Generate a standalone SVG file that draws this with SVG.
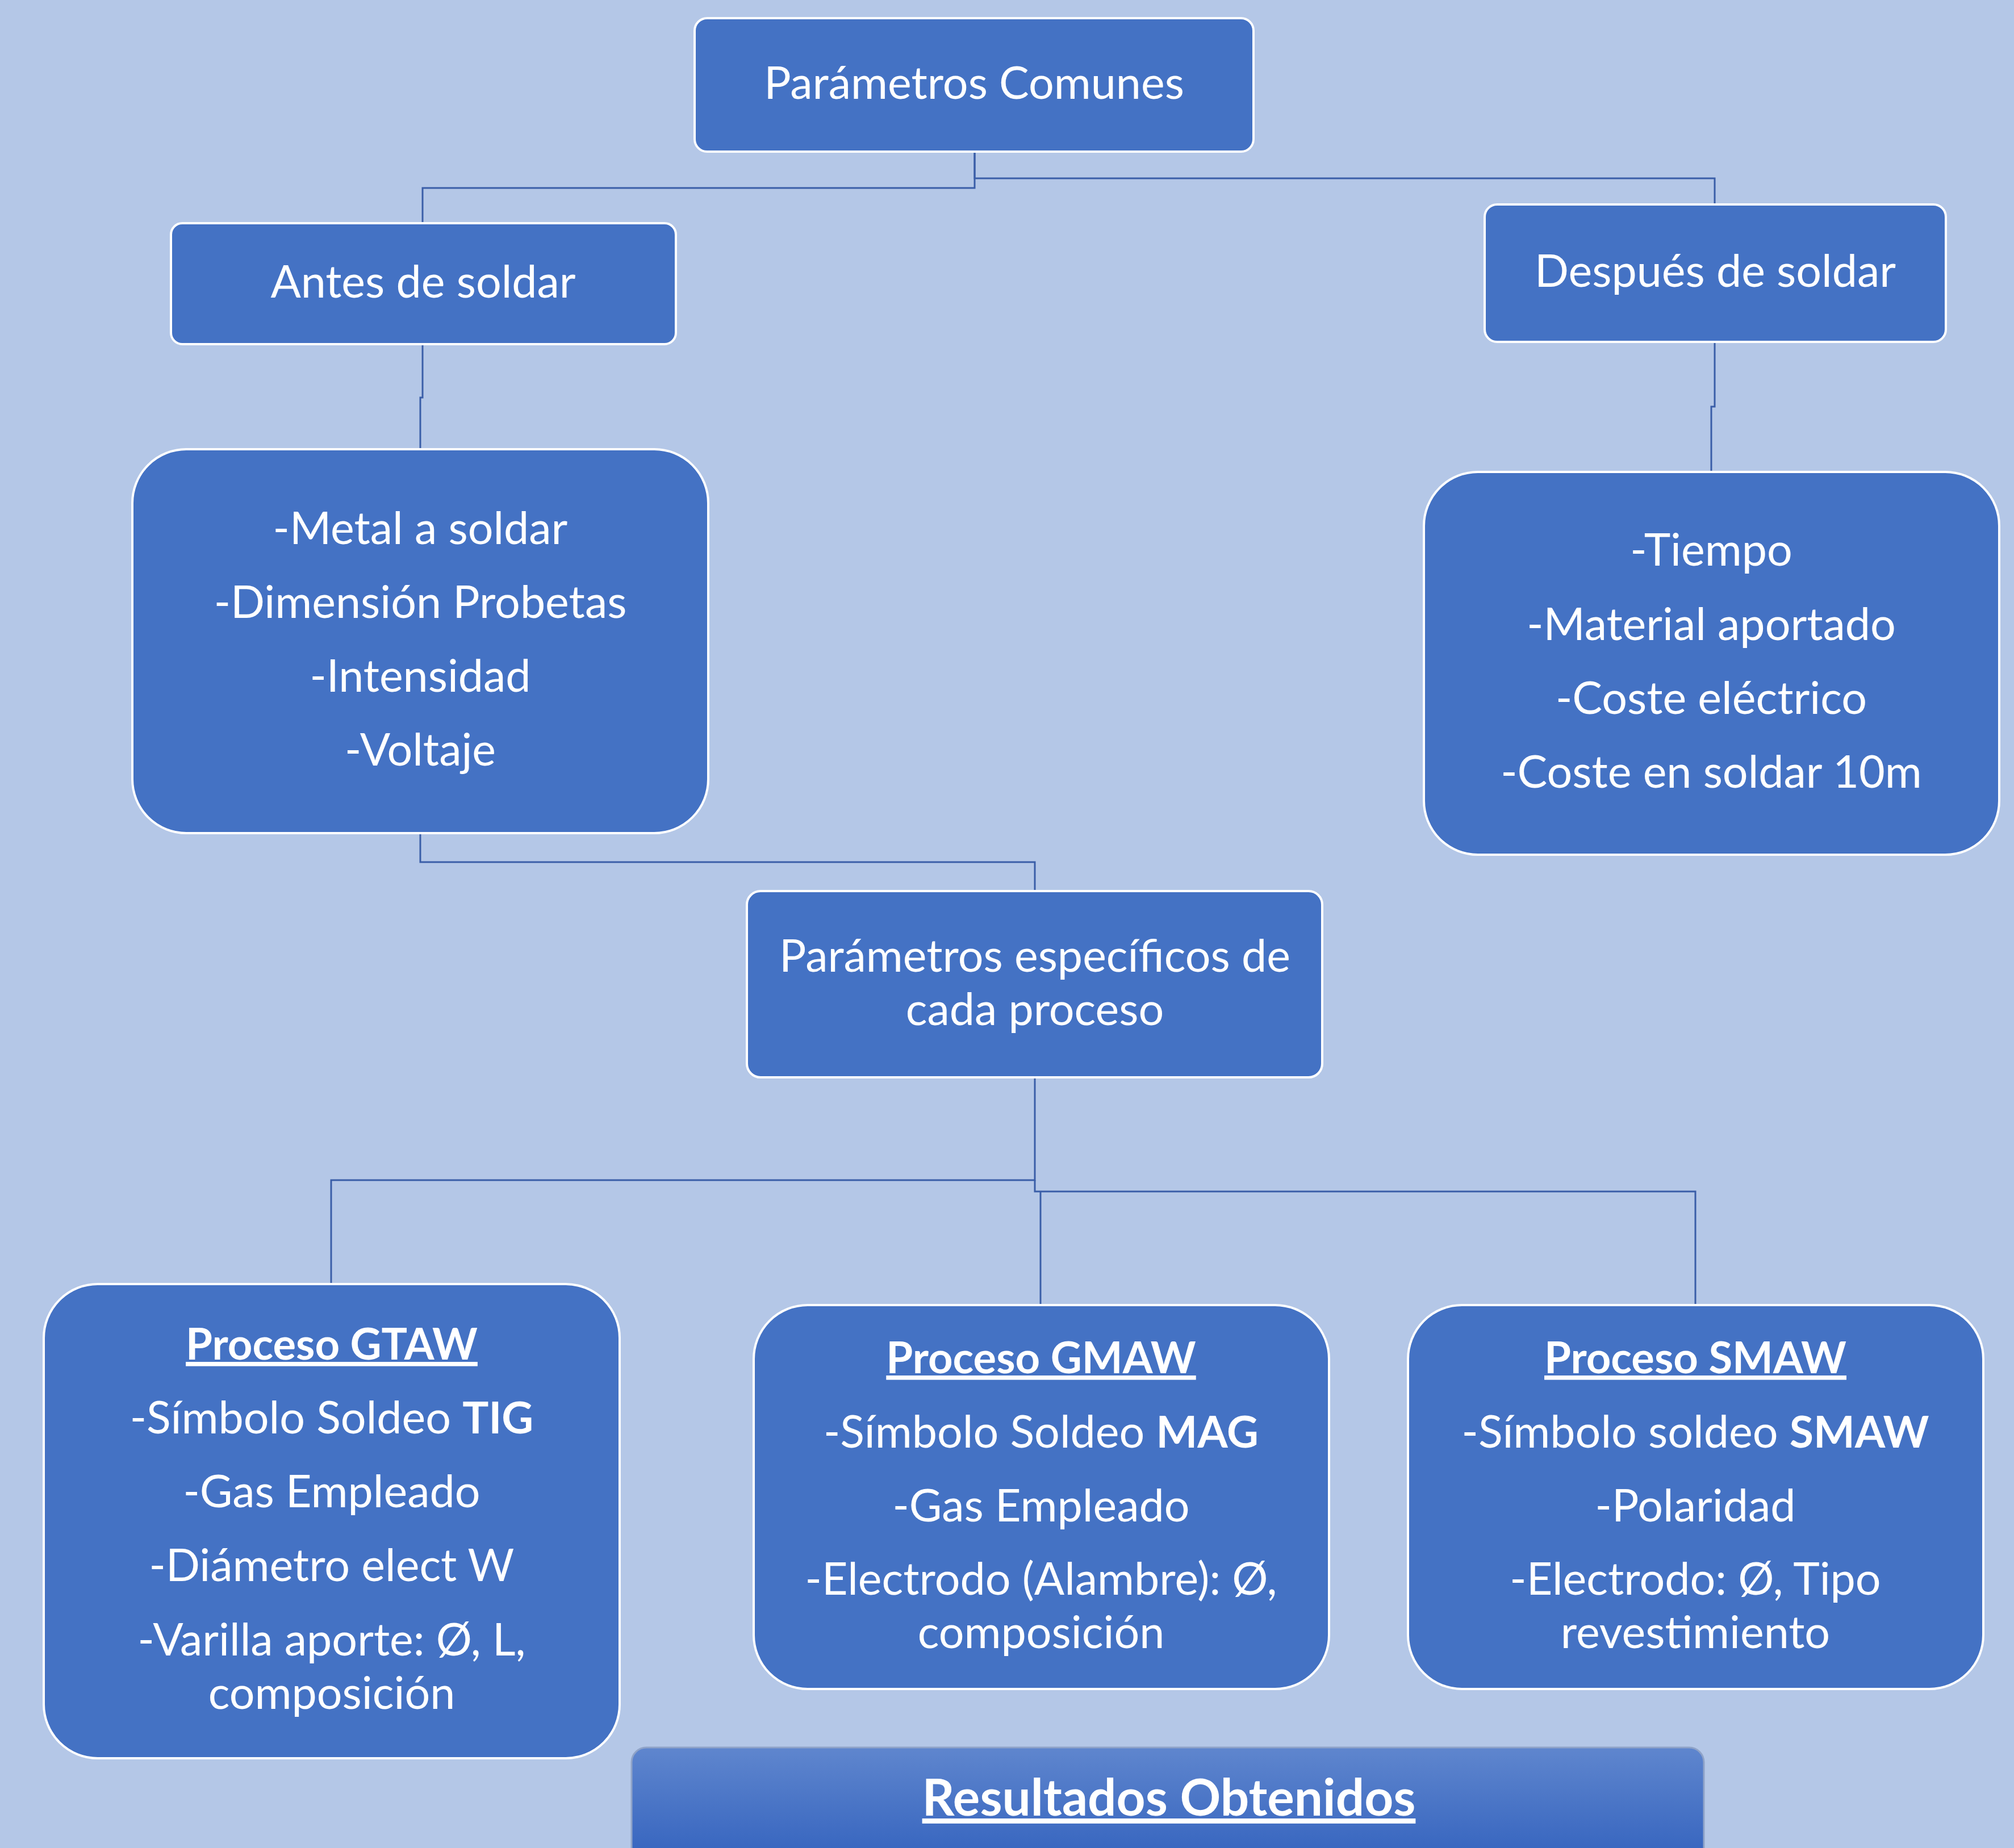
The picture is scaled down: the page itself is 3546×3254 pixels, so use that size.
<svg xmlns="http://www.w3.org/2000/svg" width="3546" height="3254" viewBox="0 0 3546 3254">
<defs>
<linearGradient id="gr" x1="0" y1="0" x2="0" y2="1">
<stop offset="0" stop-color="#5F86CE"/>
<stop offset="1" stop-color="#2E5EBC"/>
</linearGradient>
</defs>
<style>
.box{fill:#4472C4;stroke:#FFFFFF;stroke-width:4}
.t{font-family:Lato,"Liberation Sans",sans-serif;font-size:79px;fill:#FFFFFF;text-anchor:middle}
.b{font-weight:bold;font-size:77px}
.u{font-weight:bold;font-size:76px;text-decoration:underline}
.c{fill:none;stroke:#3A5EA8;stroke-width:3}
</style>
<rect x="0" y="0" width="3546" height="3254" fill="#B4C7E7"/>
<g id="connectors">
<path class="c" d="M1716 267 V331 H744 V393"/>
<path class="c" d="M1716 267 V314 H3019 V360"/>
<path class="c" d="M744 606 V700 H740 V792"/>
<path class="c" d="M3019 602 V716 H3013 V830"/>
<path class="c" d="M740 1466 V1518 H1822 V1569"/>
<path class="c" d="M1822 1897 V2078 H583 V2261"/>
<path class="c" d="M1822 2078 V2098 H2985 V2300"/>
<path class="c" d="M1832 2098 V2300"/>
</g>
<g id="n-comunes">
<rect class="box" x="1223" y="32" width="984" height="235" rx="22"/>
<text class="t" x="1715" y="174">Parámetros Comunes</text>
</g>
<g id="n-antes">
<rect class="box" x="301" y="393" width="889" height="213" rx="20"/>
<text class="t" x="745" y="524">Antes de soldar</text>
</g>
<g id="n-despues">
<rect class="box" x="2614" y="360" width="812" height="242" rx="22"/>
<text class="t" x="3020" y="505">Después de soldar</text>
</g>
<g id="n-lista-antes">
<rect class="box" x="233" y="791" width="1014" height="676" rx="95"/>
<text class="t" x="740" y="958">-Metal a soldar</text>
<text class="t" x="740" y="1088">-Dimensión Probetas</text>
<text class="t" x="740" y="1218">-Intensidad</text>
<text class="t" x="740" y="1348">-Voltaje</text>
</g>
<g id="n-lista-despues">
<rect class="box" x="2507" y="831" width="1013" height="674" rx="95"/>
<text class="t" x="3013" y="996">-Tiempo</text>
<text class="t" x="3013" y="1127">-Material aportado</text>
<text class="t" x="3013" y="1257">-Coste eléctrico</text>
<text class="t" x="3013" y="1387">-Coste en soldar 10m</text>
</g>
<g id="n-especificos">
<rect class="box" x="1315" y="1569" width="1013" height="328" rx="24"/>
<text class="t" x="1822" y="1711">Parámetros específicos de</text>
<text class="t" x="1822" y="1805">cada proceso</text>
</g>
<g id="n-gtaw">
<rect class="box" x="77" y="2261" width="1014" height="835" rx="95"/>
<text class="t u" x="584" y="2394">Proceso GTAW</text>
<text class="t" x="584" y="2524">-Símbolo Soldeo <tspan class="b">TIG</tspan></text>
<text class="t" x="584" y="2654">-Gas Empleado</text>
<text class="t" x="584" y="2784">-Diámetro elect W</text>
<text class="t" x="584" y="2915">-Varilla aporte: Ø, L,</text>
<text class="t" x="584" y="3009">composición</text>
</g>
<g id="n-gmaw">
<rect class="box" x="1327" y="2298" width="1013" height="676" rx="95"/>
<text class="t u" x="1833" y="2418">Proceso GMAW</text>
<text class="t" x="1833" y="2549">-Símbolo Soldeo <tspan class="b">MAG</tspan></text>
<text class="t" x="1833" y="2679">-Gas Empleado</text>
<text class="t" x="1833" y="2808">-Electrodo (Alambre): Ø,</text>
<text class="t" x="1833" y="2902">composición</text>
</g>
<g id="n-smaw">
<rect class="box" x="2479" y="2298" width="1013" height="676" rx="95"/>
<text class="t u" x="2985" y="2418">Proceso SMAW</text>
<text class="t" x="2985" y="2549">-Símbolo soldeo <tspan class="b">SMAW</tspan></text>
<text class="t" x="2985" y="2679">-Polaridad</text>
<text class="t" x="2985" y="2808">-Electrodo: Ø, Tipo</text>
<text class="t" x="2985" y="2902">revestimiento</text>
</g>
<g id="n-resultados">
<rect x="1112" y="3077" width="1888" height="230" rx="26" fill="url(#gr)" stroke="#8FA3C8" stroke-width="3"/>
<text class="t u" x="2058" y="3197" style="font-size:89px">Resultados Obtenidos</text>
</g>
</svg>
